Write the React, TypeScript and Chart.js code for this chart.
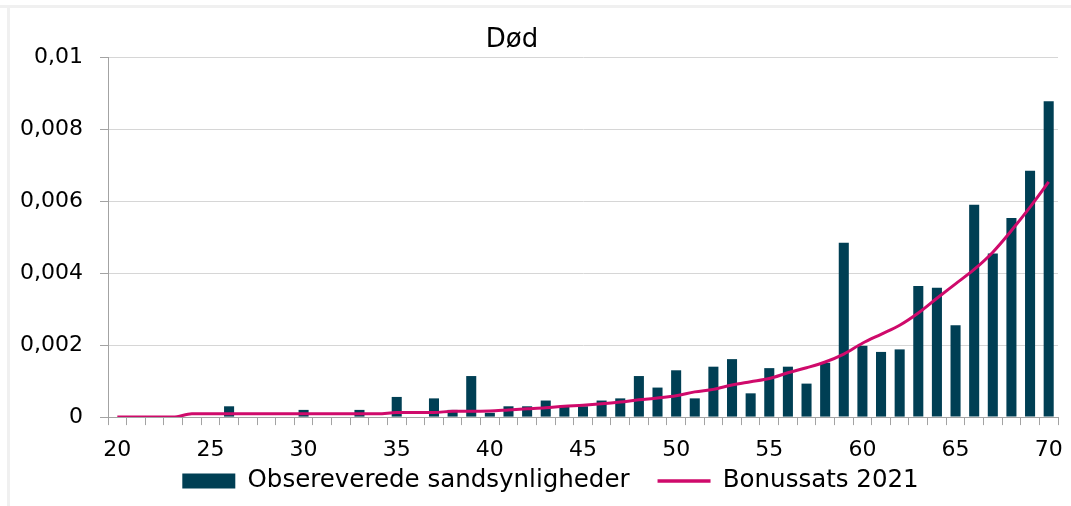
import React, { useEffect, useRef } from 'react';
import { Chart, registerables } from 'chart.js';

Chart.register(...registerables);

const ages = [
  '20', '21', '22', '23', '24', '25', '26', '27', '28', '29',
  '30', '31', '32', '33', '34', '35', '36', '37', '38', '39',
  '40', '41', '42', '43', '44', '45', '46', '47', '48', '49',
  '50', '51', '52', '53', '54', '55', '56', '57', '58', '59',
  '60', '61', '62', '63', '64', '65', '66', '67', '68', '69',
  '70',
];

const observed = [
  0, 0, 0, 0, 0, 0, 0.0003, 0, 0, 0,
  0.0002, 0, 0, 0.0002, 0, 0.00056, 0, 0.00052, 0.0002, 0.00114,
  0.00012, 0.0003, 0.0003, 0.00046, 0.00032, 0.0003, 0.00046, 0.00052, 0.00114, 0.00082,
  0.0013, 0.00052, 0.0014, 0.00161, 0.00066, 0.00136, 0.0014, 0.00093, 0.00151, 0.00484,
  0.00198, 0.00181, 0.00188, 0.00364, 0.00359, 0.00255, 0.0059, 0.00454, 0.00553, 0.00684,
  0.00877,
];

const bonus = [
  0, 0, 0, 0, 0.00009, 0.00009, 0.00009, 0.00009, 0.00009, 0.00009,
  0.00009, 0.00009, 0.00009, 0.00009, 0.00009, 0.00013, 0.00013, 0.00013, 0.00016, 0.00016,
  0.00017, 0.0002, 0.00023, 0.00026, 0.0003, 0.00033, 0.00037, 0.00042, 0.00048, 0.00053,
  0.00059, 0.0007, 0.00077, 0.00089, 0.00098, 0.00107, 0.00123, 0.00137, 0.00153, 0.00175,
  0.00205, 0.0023, 0.00255, 0.00289, 0.0033, 0.0037, 0.0041, 0.00458, 0.00518, 0.00583,
  0.00653,
];

const TITLE = 'Død';
const BAR_LABEL = 'Obsereverede sandsynligheder';
const LINE_LABEL = 'Bonussats 2021';

const BAR_COLOR = '#003f54';
const LINE_COLOR = '#cf0a6b';
const AXIS_COLOR = '#a3a3a3';
const GRID_COLOR = '#d6d6d6';
const FONT = '"DejaVu Sans", Verdana, sans-serif';

const LEGEND_GAP = 28;
const LEGEND_FONT = 24.5;
const TICK_FONT = 22;

// Legend: place the row and widen the gap between the two entries.
const legendAdjust = {
  id: 'legendAdjust',
  afterLayout(chart: any) {
    const l = chart.legend;
    if (!l) return;
    try {
      l.options.labels.padding = LEGEND_GAP;
    } catch (e) {
      /* ignore */
    }
    l.top = 473 - LEGEND_GAP - LEGEND_FONT / 2;
    l.bottom = chart.height;
    l.left = -3.5;
    l.right = 1044.5;
  },
};

export default function App() {
  const ref = useRef<HTMLCanvasElement>(null);

  useEffect(() => {
    const chart = new Chart(ref.current as HTMLCanvasElement, {
      type: 'bar',
      data: {
        labels: ages,
        datasets: [
          {
            type: 'bar',
            label: BAR_LABEL,
            data: observed,
            backgroundColor: BAR_COLOR,
            borderWidth: 0,
            barPercentage: 0.54,
            categoryPercentage: 1,
            order: 2,
          } as any,
          {
            type: 'line',
            label: LINE_LABEL,
            data: bonus,
            borderColor: LINE_COLOR,
            backgroundColor: LINE_COLOR,
            borderWidth: 3,
            pointRadius: 0,
            cubicInterpolationMode: 'monotone',
            order: 1,
          } as any,
        ],
      },
      plugins: [legendAdjust],
      options: {
        animation: false,
        responsive: false,
        layout: { padding: { left: 0, right: 13, top: 49, bottom: -12 } },
        plugins: {
          title: { display: false },
          tooltip: { enabled: false },
          legend: {
            position: 'bottom',
            labels: {
              usePointStyle: true,
              pointStyleWidth: 53,
              boxHeight: 15,
              padding: 8,
              color: '#000',
              font: { family: FONT, size: LEGEND_FONT },
              generateLabels: (c: any) => {
                const items = (Chart.defaults.plugins.legend.labels as any).generateLabels(c);
                return items
                  .sort((a: any, b: any) => a.datasetIndex - b.datasetIndex)
                  .map((it: any) =>
                    it.datasetIndex === 0
                      ? { ...it, pointStyle: 'rect', lineWidth: 0, fillStyle: BAR_COLOR }
                      : { ...it, pointStyle: 'line', lineWidth: 3.5, strokeStyle: LINE_COLOR }
                  );
              },
            },
          },
        },
        scales: {
          x: {
            offset: true,
            afterFit: (s: any) => {
              s.paddingLeft = 0;
              s.paddingRight = 0;
            },
            grid: {
              offset: true,
              drawOnChartArea: false,
              drawTicks: true,
              tickLength: 8,
              color: AXIS_COLOR,
              lineWidth: 1,
            },
            border: { display: true, color: AXIS_COLOR, width: 1 },
            ticks: {
              autoSkip: false,
              maxRotation: 0,
              minRotation: 0,
              padding: 12,
              color: '#000',
              font: { family: FONT, size: TICK_FONT },
              callback: (_v: any, idx: number) => {
                const l = ages[idx];
                return Number(l) % 5 === 0 ? l : '';
              },
            },
          },
          y: {
            min: 0,
            max: 0.01,
            afterFit: (s: any) => {
              s.width = 98;
            },
            grid: {
              color: (ctx: any) => (ctx.tick && ctx.tick.value === 0 ? AXIS_COLOR : GRID_COLOR),
              tickColor: AXIS_COLOR,
              tickLength: 8,
              lineWidth: 1,
            },
            border: { display: true, color: AXIS_COLOR, width: 1 },
            ticks: {
              stepSize: 0.002,
              padding: 17,
              color: '#000',
              font: { family: FONT, size: TICK_FONT },
              callback: (v: any) => {
                const n = Number(v);
                if (Math.abs(n) < 1e-12) return '0';
                return String(+n.toFixed(4)).replace('.', ',');
              },
            },
          },
        },
      } as any,
    });
    return () => chart.destroy();
  }, []);

  return (
    <div
      style={{
        position: 'fixed',
        left: 0,
        top: 0,
        width: 1071,
        height: 506,
        background: '#fff',
        overflow: 'hidden',
      }}
    >
      <div style={{ position: 'absolute', left: 0, top: 5, width: 1071, height: 3, background: '#f0f0f0' }} />
      <div style={{ position: 'absolute', left: 7, top: 8, width: 3, height: 498, background: '#f0f0f0' }} />
      <div style={{ position: 'absolute', left: 10, top: 8, width: 1061, height: 498 }}>
        <canvas ref={ref} width={1061} height={498} style={{ display: 'block' }} />
      </div>
      <div
        style={{
          position: 'absolute',
          left: 412,
          width: 200,
          top: 22,
          height: 32,
          lineHeight: '32px',
          textAlign: 'center',
          fontFamily: FONT,
          fontSize: 26,
          color: '#000',
        }}
      >
        {TITLE}
      </div>
    </div>
  );
}
